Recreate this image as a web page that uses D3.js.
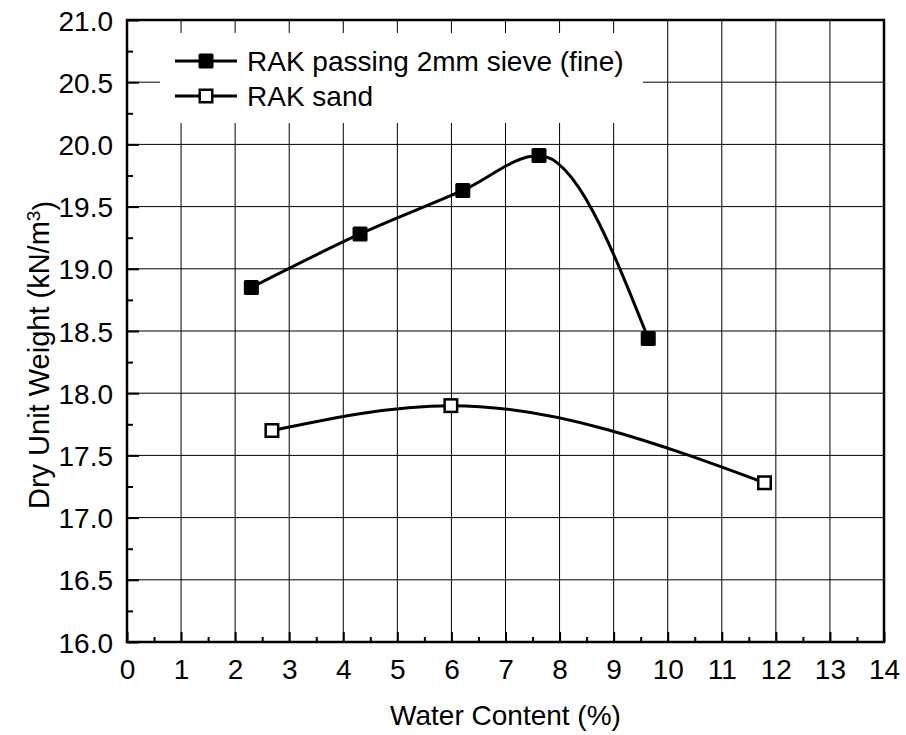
<!DOCTYPE html>
<html>
<head>
<meta charset="utf-8">
<script src="https://cdn.jsdelivr.net/npm/d3@7"></script>
<style>
  body { margin: 0; background: #fff; }
  text { font-family: Arial, "Liberation Sans", sans-serif; fill: #000; }
</style>
</head>
<body>
<svg id="chart" width="906" height="735"></svg>
<script>
// data
const fineWater = [2.3, 4.31, 6.21, 7.62, 9.64];
const fineDensity = [18.85, 19.28, 19.63, 19.91, 18.44];
const sandWater = [2.68, 5.99, 11.79];
const sandDensity = [17.70, 17.90, 17.28];

const xTicks = d3.range(0, 15, 1);
const yTicks = [16.0, 16.5, 17.0, 17.5, 18.0, 18.5, 19.0, 19.5, 20.0, 20.5, 21.0];

const legendLabels = ["RAK passing 2mm sieve (fine)", "RAK sand"];

const width = 906;
const height = 735;
const margin = { top: 20, right: 22, bottom: 93, left: 127 };

const svg = d3.select("#chart");

const x = d3.scaleLinear()
.domain([0, 14])
.range([margin.left, width - margin.right]);

const y = d3.scaleLinear()
.domain([16, 21])
.range([height - margin.bottom, margin.top]);

let fontSize = 28;

// grid
let grid = svg.append("g");

grid.selectAll(".vgrid")
.data(xTicks.slice(1, -1))
.enter().append("line")
.attr("x1", d => x(d)).attr("x2", d => x(d))
.attr("y1", y(16)).attr("y2", y(21))
.attr("stroke", "#000")
.attr("stroke-width", 1);

grid.selectAll(".hgrid")
.data(yTicks.slice(1, -1))
.enter().append("line")
.attr("x1", x(0)).attr("x2", x(14))
.attr("y1", d => y(d)).attr("y2", d => y(d))
.attr("stroke", "#000")
.attr("stroke-width", 1);

// legend background hides the grid behind it
svg.append("rect")
.attr("x", 160)
.attr("y", 33)
.attr("width", 483)
.attr("height", 90)
.attr("fill", "#fff");

// axes with inward ticks
const yAxis = d3.axisLeft(y)
.tickValues(yTicks)
.tickSize(-12)
.tickPadding(14)
.tickFormat(d3.format(".1f"));

const yMinor = d3.axisLeft(y)
.tickValues(d3.range(16.25, 21, 0.5))
.tickSize(-6)
.tickFormat("");

const xAxis = d3.axisBottom(x)
.tickValues(xTicks)
.tickSize(-10)
.tickPadding(17)
.tickFormat(d3.format("d"));

const xMinor = d3.axisBottom(x)
.tickValues(d3.range(0.5, 14, 1))
.tickSize(-5)
.tickFormat("");

let gy = svg.append("g")
.attr("transform", `translate(${x(0)},0)`)
.call(yAxis);

svg.append("g")
.attr("transform", `translate(${x(0)},0)`)
.call(yMinor);

let gx = svg.append("g")
.attr("transform", `translate(0,${y(16)})`)
.call(xAxis);

svg.append("g")
.attr("transform", `translate(0,${y(16)})`)
.call(xMinor);

svg.selectAll(".domain").remove();
svg.selectAll(".tick line")
.attr("stroke", "#000")
.attr("stroke-width", 2);

gy.selectAll("text")
.style("font-size", fontSize + "px")
.attr("dy", "0.36em");

gx.selectAll("text")
.style("font-size", fontSize + "px")
.attr("dy", "0.72em");

// frame
svg.append("rect")
.attr("x", x(0))
.attr("y", y(21))
.attr("width", x(14) - x(0))
.attr("height", y(16) - y(21))
.attr("fill", "none")
.attr("stroke", "#000")
.attr("stroke-width", 2.5);

// curves (spline through the points)
const line = d3.line()
.x(d => x(d[0]))
.y(d => y(d[1]))
.curve(d3.curveMonotoneX);

const finePts = fineWater.map((w, i) => [w, fineDensity[i]]);
const sandPts = sandWater.map((w, i) => [w, sandDensity[i]]);

[finePts, sandPts].forEach(pts => {
    svg.append("path")
    .datum(pts)
    .attr("d", line)
    .attr("fill", "none")
    .attr("stroke", "#000")
    .attr("stroke-width", 3);
});

const markerSize = 15;

svg.selectAll(".fine")
.data(finePts)
.enter().append("rect")
.attr("x", d => x(d[0]) - markerSize / 2)
.attr("y", d => y(d[1]) - markerSize / 2)
.attr("width", markerSize)
.attr("height", markerSize)
.attr("rx", 1.5)
.attr("fill", "#000");

svg.selectAll(".sand")
.data(sandPts)
.enter().append("rect")
.attr("x", d => x(d[0]) - (markerSize - 2.5) / 2)
.attr("y", d => y(d[1]) - (markerSize - 2.5) / 2)
.attr("width", markerSize - 2.5)
.attr("height", markerSize - 2.5)
.attr("fill", "#fff")
.attr("stroke", "#000")
.attr("stroke-width", 2.5);

// legend
let legend = svg.append("g");

legendLabels.forEach((label, i) => {
    let ly = 61 + i * 35;
    legend.append("line")
    .attr("x1", 175).attr("x2", 237)
    .attr("y1", ly).attr("y2", ly)
    .attr("stroke", "#000")
    .attr("stroke-width", 3);

    if (i === 0) {
        legend.append("rect")
        .attr("x", 206 - markerSize / 2)
        .attr("y", ly - markerSize / 2)
        .attr("width", markerSize)
        .attr("height", markerSize)
        .attr("rx", 1.5)
        .attr("fill", "#000");
    } else {
        legend.append("rect")
        .attr("x", 206 - (markerSize - 2.5) / 2)
        .attr("y", ly - (markerSize - 2.5) / 2)
        .attr("width", markerSize - 2.5)
        .attr("height", markerSize - 2.5)
        .attr("fill", "#fff")
        .attr("stroke", "#000")
        .attr("stroke-width", 2.5);
    }

    legend.append("text")
    .attr("x", 247)
    .attr("y", ly)
    .attr("dy", "0.36em")
    .style("font-size", fontSize + "px")
    .text(label);
});

// axis titles
svg.append("text")
.attr("x", (x(0) + x(14)) / 2)
.attr("y", 725)
.attr("text-anchor", "middle")
.style("font-size", fontSize + "px")
.text("Water Content (%)");

let yTitle = svg.append("text")
.attr("transform", `translate(49,355) rotate(-90)`)
.attr("text-anchor", "middle")
.style("font-size", "29px");

yTitle.append("tspan").text("Dry Unit Weight (kN/m");
yTitle.append("tspan").attr("dy", "-0.5em").style("font-size", "19px").text("3");
yTitle.append("tspan").attr("dy", "0.5em").text(")");
</script>
</body>
</html>
